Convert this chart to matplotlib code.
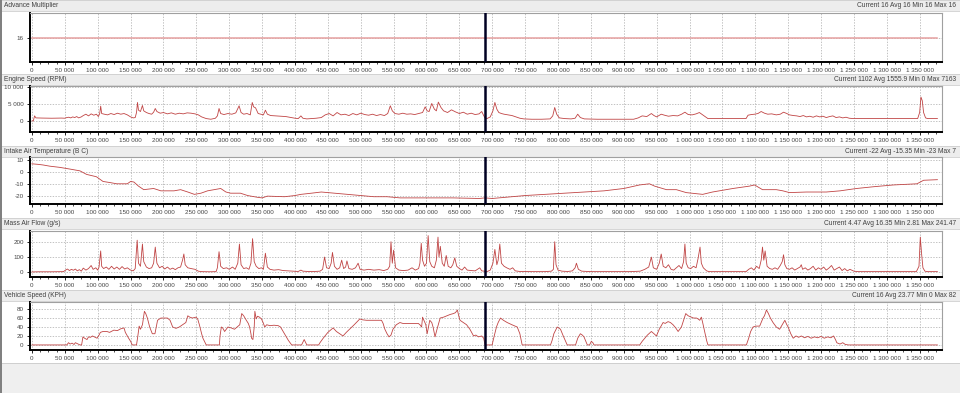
import numpy as np
import matplotlib
matplotlib.use('Agg')
import matplotlib.pyplot as plt
import matplotlib.patches as mpatches
from matplotlib.ticker import MultipleLocator, FuncFormatter

plt.rcParams['font.family'] = ['Liberation Sans', 'DejaVu Sans']

# ---- data (x in thousands of samples) ----
titles = ['Advance Multiplier', 'Engine Speed (RPM)', 'Intake Air Temperature (B C)',
          'Mass Air Flow (g/s)', 'Vehicle Speed (KPH)']
stats = ['Current 16 Avg 16 Min 16 Max 16',
         'Current 1102 Avg 1555.9 Min 0 Max 7163',
         'Current -22 Avg -15.35 Min -23 Max 7',
         'Current 4.47 Avg 16.35 Min 2.81 Max 241.47',
         'Current 16 Avg 23.77 Min 0 Max 82']

advance_pts = [(0, 16), (1377, 16)]

rpm_pts = [(0,0),(2,0),(4,1500),(6,900),(15,850),(30,800),(45,850),(50,800),(53,1000),(56,1100),
    (59,900),(62,1200),(65,1000),(68,1300),(71,900),(75,1200),(78,1600),(82,2000),(86,1500),(90,2100),
    (94,1700),(98,2000),(101,1300),(103,2200),(104.5,4400),(106,2200),(110,2000),(115,1800),(120,2200),
    (125,1900),(130,2300),(135,2000),(140,2200),(145,1800),(150,1200),(154,900),(157,1000),(159,2500),
    (160.5,5500),(162,3200),(165,2800),(168,4600),(170,3000),(174,2500),(178,2200),(182,2000),(185,2600),
    (187.5,3700),(190,2800),(195,2300),(200,2500),(206,2100),(212,2400),(218,2000),(224,2300),(230,2100),
    (236,2400),(242,2300),(248,2100),(253,1800),(258,1200),(265,700),(272,500),(279,800),(282,1500),
    (284.5,3700),(287,2200),(292,1900),(298,2200),(304,2000),(310,2400),(315,4500),(318,2500),(322,2000),
    (327,2200),(332,1800),(335,5500),(337,4200),(340,3900),(344,2200),(348,2000),(352,1800),(355,3200),
    (358,2000),(363,1600),(370,1500),(378,1400),(386,1300),(394,1000),(400,800),(405,700),(409,1500),
    (412,800),(418,600),(425,700),(432,800),(440,1000),(446,1800),(452,2200),(458,1500),(464,2500),
    (470,1800),(476,2000),(482,1600),(488,2200),(494,1800),(500,2300),(506,1900),(512,1700),(518,2000),
    (524,1600),(530,1900),(536,1600),(541,2200),(545,4500),(548,3000),(552,2200),(558,2000),(564,2300),
    (570,2000),(576,2100),(582,1900),(588,2200),(594,2500),(598,4200),(601,3000),(604,2800),(608,5200),
    (612,3500),(615,3000),(618,5600),(622,4000),(626,3000),(632,2500),(638,3300),(644,2700),(650,2200),
    (656,2600),(662,2000),(668,2300),(674,1900),(680,2100),(684,2800),(687,1600),(689,900),(692,700),
    (697,1200),(701,3000),(704,5500),(707,3500),(710,2500),(714,2200),(718,2000),(724,1800),(730,1600),
    (736,1200),(742,800),(748,600),(760,500),(775,500),(788,600),(792,1500),(795,4000),(798,2000),
    (802,900),(810,700),(820,600),(826,800),(830,2000),(834,1000),(840,600),(860,500),(890,500),(915,500),
    (922,900),(928,1500),(935,1300),(942,2200),(946,1600),(950,1200),(957,2000),(962,1700),(968,1400),
    (975,1600),(982,1500),(988,2000),(993,2600),(998,1900),(1004,1800),(1010,2100),(1015,2500),(1020,1800),
    (1025,1100),(1028,700),(1060,700),(1086,700),(1089,1700),(1094,1900),(1099,2000),(1104,2200),
    (1109,2800),(1114,2300),(1119,2000),(1125,2100),(1132,1800),(1138,2000),(1143,2600),(1148,2200),
    (1152,1800),(1158,1600),(1163,1500),(1168,1300),(1173,1600),(1178,1200),(1183,1400),(1188,1100),
    (1193,1500),(1198,1200),(1203,1400),(1208,1000),(1213,1300),(1218,1500),(1223,1000),(1228,1200),
    (1233,900),(1238,1100),(1243,800),(1249,700),(1300,700),(1347,700),(1350,2500),(1352,7100),
    (1354,6000),(1356,2500),(1359,900),(1362,700),(1377,700)]

temp_pts = [(0,7),(10,6.5),(17,6),(27,5),(42,4),(58,2.5),(73,1),(83,-2),(98,-4),(108,-8),(119,-9),
    (129,-10),(145,-10),(150,-8),(155,-8.5),(162,-12),(170,-15),(185,-14),(196,-16),(216,-16),(226,-15),
    (237,-17),(247,-19),(257,-18),(267,-16),(277,-15),(287,-14),(295,-17),(302,-18),(317,-18),(328,-20),
    (343,-21.5),(350,-22),(358,-20.5),(384,-21),(400,-20),(409,-19),(425,-18),(440,-17),(460,-18),
    (480,-19),(500,-20),(520,-21),(540,-21),(560,-22),(600,-22),(640,-22),(680,-22.5),(689,-22),
    (700,-22.5),(720,-21.5),(750,-20),(780,-19),(810,-18),(840,-17),(870,-16),(900,-14),(924,-11),
    (939,-10),(947,-12),(965,-15),(980,-15),(995,-17.5),(1020,-19),(1035,-17),(1066,-14),(1091,-12),
    (1099,-11),(1111,-15),(1132,-15),(1142,-16),(1152,-17.5),(1178,-17),(1208,-17),(1229,-16),
    (1254,-14),(1280,-12.5),(1310,-11),(1346,-10),(1356,-7),(1377,-6.5)]

maf_pts = [(0,3),(10,4),(30,4),(48,5),(51,15),(54,22),(57,12),(60,20),(63,14),(66,22),(69,10),(72,18),
    (75,8),(78,28),(82,15),(86,25),(90,45),(93,20),(97,30),(100,15),(102,35),(104.5,140),(106,40),(109,25),
    (113,35),(117,20),(121,40),(125,22),(129,35),(133,20),(137,38),(141,22),(145,30),(150,15),(154,10),
    (157,25),(160,210),(162,60),(165,40),(168,185),(170,70),(174,35),(178,25),(182,30),(185,60),
    (187.5,165),(190,60),(194,30),(198,40),(202,22),(206,35),(210,20),(214,28),(218,18),(222,30),(226,35),
    (229,80),(231,120),(233,50),(237,30),(242,25),(248,20),(253,8),(258,5),(270,4),(280,5),(282,30),
    (284.5,135),(287,40),(291,25),(296,30),(300,20),(305,35),(309,20),(313,60),(315.5,185),(318,50),
    (322,25),(326,30),(330,20),(333,60),(335.5,220),(338,70),(341,40),(345,25),(349,30),(352,20),
    (355,125),(358,35),(362,20),(368,15),(375,18),(382,12),(390,10),(398,8),(405,6),(409,15),(412,8),
    (420,6),(430,6),(438,8),(442,20),(445,100),(448,30),(452,25),(455,60),(457,130),(460,40),(464,20),
    (468,30),(471,80),(474,25),(477,35),(479,75),(482,25),(487,20),(492,30),(496,60),(499,20),(505,15),
    (512,20),(520,15),(528,18),(535,12),(541,20),(544,40),(546,200),(548,60),(550,145),(553,30),(558,15),
    (565,12),(572,15),(578,30),(583,15),(588,25),(590,60),(592,190),(594,80),(597,40),(600,60),
    (602.5,240),(605,70),(608,40),(612,30),(615,80),(617.5,230),(619,100),(621,170),(624,60),(627,40),
    (630,110),(633,40),(637,30),(640,50),(643,95),(646,40),(650,25),(654,15),(658,35),(662,15),(668,12),
    (674,10),(681,30),(684,10),(688,8),(692,5),(697,15),(701,60),(704,150),(707,50),(709,80),(711.5,185),
    (714,60),(718,40),(722,30),(727,20),(731,30),(735,10),(742,6),(760,5),(780,5),(790,8),(793,20),
    (795,200),(797,50),(800,15),(806,8),(815,6),(822,10),(826,30),(828,60),(831,20),(836,8),(850,5),
    (880,5),(910,5),(925,8),(932,20),(938,35),(942,100),(945,30),(950,20),(954,60),(957,120),(960,40),
    (964,30),(968,50),(972,20),(976,15),(980,30),(984,45),(988,25),(991,70),(993,185),(995,60),(998,30),
    (1002,25),(1006,40),(1010,30),(1013,90),(1016,165),(1018,60),(1021,30),(1026,10),(1030,5),(1060,5),
    (1086,5),(1090,20),(1094,30),(1098,15),(1102,40),(1106,25),(1109,80),(1111,165),(1113,80),(1115,140),
    (1118,40),(1122,25),(1126,20),(1130,30),(1134,20),(1138,45),(1141,70),(1143,115),(1145,50),(1148,25),
    (1152,20),(1156,30),(1160,15),(1164,25),(1168,35),(1170,50),(1172,20),(1176,30),(1180,15),(1184,25),
    (1188,40),(1192,15),(1196,30),(1200,20),(1204,35),(1208,15),(1212,28),(1216,45),(1220,15),(1224,25),
    (1228,35),(1232,12),(1236,25),(1240,10),(1244,20),(1250,8),(1256,5),(1300,5),(1345,5),(1349,40),
    (1351,230),(1353,120),(1355,30),(1358,8),(1362,5),(1377,5)]

speed_pts = [(0,0),(53,0),(55.6,5),(58,2),(61,4),(64,1),(66,5),(70,2),(73,0),(75.5,0),(77.5,18),(80,15),
    (83.7,12),(86,18),(89,17),(92,20),(96,17),(99,15),(102,22),(104,28),(108,30),(114,30),(118,28),
    (124.5,33),(130,32),(135,36),(140,38),(142,28),(147,15),(150,8),(152.5,0),(159,0),(161,20),(163,42),
    (165,35),(168,45),(171,75),(173,70),(175.5,60),(179,40),(183,25),(187,25),(191,55),(196,60),(206,60),
    (210,55),(214,40),(219,37),(224,40),(229,45),(234,50),(237,65),(240,62),(244,60),(249.5,62),(252,58),
    (254.6,45),(258,25),(260,15),(265,0),(285,0),(286,20),(288,40),(290,38),(293,30),(298,40),(303,38),
    (308,35),(312,40),(316,45),(319,70),(322,65),(326,55),(329,48),(331,40),(333,25),(334,15),(336,12),
    (338,40),(339,75),(341,58),(343,64),(346,62),(349,58),(351.5,50),(354,40),(357,45),(362,43),(368,44),
    (374.5,43),(378,40),(382,30),(386,20),(390,10),(395,0),(410,0),(414,12),(418,0),(436,0),(438,5),
    (442.9,15),(450,28),(458,38),(463,30),(468,25),(473,20),(478,28),(483,35),(490,45),(498.6,58),
    (503,56),(508.8,55),(520,55),(531.6,55),(534,48),(536.7,35),(540,25),(543,18),(546,22),(549,35),
    (554,45),(559.6,50),(564,48),(569.8,48),(580,48),(587.5,48),(590,45),(592.6,40),(594,62),(596,55),
    (599,45),(601,25),(603,40),(605,55),(608,50),(610,40),(613,18),(616,35),(620.8,60),(626,62),(631,65),
    (636,68),(641,70),(644,72),(647,78),(649,65),(651,55),(656,50),(661,45),(666,35),(671.6,20),(675,22),
    (679,18),(684,20),(687,15),(689,0),(699.8,0),(703,20),(706.4,40),(709,50),(712.5,60),(717,55),
    (722.7,50),(730,45),(738,40),(742,25),(745.5,0),(788.6,0),(791,10),(793.7,25),(798.8,40),(801,38),
    (803.8,35),(808,20),(814,0),(826.7,0),(830,15),(834,25),(837,22),(839.5,18),(844.6,0),(848,0),
    (850.7,8),(853,5),(854.7,0),(924.3,0),(928,8),(931.9,15),(936,22),(942,30),(946,25),(949.7,20),
    (954,35),(959.8,50),(963,48),(967.4,52),(971,50),(975,45),(979,38),(982.7,30),(987.7,40),(991,55),
    (994.3,70),(998,65),(1003,62),(1006,60),(1010.6,60),(1013,58),(1015.6,55),(1018,62),(1020,50),
    (1023,30),(1026,10),(1028,0),(1086.5,0),(1090,15),(1093,30),(1096.6,40),(1101,42),(1106.7,42),
    (1111.8,60),(1114,65),(1117,78),(1120,70),(1123,60),(1127,50),(1132,40),(1137,35),(1141,45),(1145,55),
    (1148,45),(1150,40),(1154,25),(1157.7,15),(1162,20),(1166,17),(1170,20),(1175,16),(1180,19),(1185,15),
    (1190,18),(1195,16),(1200,19),(1205,15),(1210,18),(1215,16),(1219,20),(1222,12),(1224,5),(1227,3),
    (1229,2),(1233,5),(1237,1),(1242,0),(1377,0)]

series = [advance_pts, rpm_pts, temp_pts, maf_pts, speed_pts]
y_ticks = [[16], [0, 5000, 10000], [-20, -10, 0, 10], [0, 100, 200], [0, 20, 40, 60, 80]]
y_limits = [(15, 17), (-3300, 10400), (-27.2, 12.8), (-30, 270), (-11.3, 95.8)]
cursor_k = 689

# ---- layout, in pixels from the top of a 960x393 image ----
W, H = 960.0, 393.0
header_top = [0, 74, 146, 218, 290]
axes_top = [13, 86, 157, 231, 302]
axes_bot = [62, 132, 204, 277, 350]
body_bot = [74, 146, 218, 290, 363]
ax_left, ax_right = 30, 942

fig = plt.figure(figsize=(9.6, 3.93), dpi=100)
fig.patch.set_facecolor('#efefef')

def fy(px):
    return 1 - px / H

def space_fmt(v, pos):
    return '{:,}'.format(int(round(v))).replace(',', ' ')

for i in range(5):
    # panel body and header strip
    fig.patches.append(mpatches.Rectangle((0, fy(body_bot[i])), 1, (body_bot[i] - header_top[i]) / H,
                                          transform=fig.transFigure, facecolor='white',
                                          edgecolor='#c8c8c8', lw=0.6, zorder=-5))
    fig.patches.append(mpatches.Rectangle((0, fy(header_top[i] + 11)), 1, 11 / H,
                                          transform=fig.transFigure, facecolor='#ededed',
                                          edgecolor='#d0d0d0', lw=0.6, zorder=-4))
    fig.text(4 / W, fy(header_top[i] + 5.5), titles[i], fontsize=4.8, color='#404040', va='center', ha='left')
    fig.text(956 / W, fy(header_top[i] + 5.5), stats[i], fontsize=4.8, color='#404040', va='center', ha='right')

    ax = fig.add_axes([ax_left / W, fy(axes_bot[i]), (ax_right - ax_left) / W,
                       (axes_bot[i] - axes_top[i]) / H])
    ax.set_zorder(2)
    ax.set_facecolor('white')
    pts = np.array(series[i], dtype=float)
    if i == 0:
        ax.plot(pts[:, 0] * 1000, pts[:, 1], color='#e6a0a0', lw=1.1, zorder=3)
    else:
        ax.plot(pts[:, 0] * 1000, pts[:, 1], color='#c04444', lw=0.6, zorder=3)
    ax.axvline(cursor_k * 1000, color='#000022', lw=1.8, zorder=4)

    ax.set_xlim(-3000, 1384000)
    ax.set_ylim(*y_limits[i])
    ax.set_yticks(y_ticks[i])
    ax.yaxis.set_major_formatter(FuncFormatter(space_fmt))
    ax.xaxis.set_major_locator(MultipleLocator(50000))
    ax.xaxis.set_minor_locator(MultipleLocator(12500))
    ax.xaxis.set_major_formatter(FuncFormatter(lambda v, p: space_fmt(v, p) if 0 <= v <= 1350000 else ''))
    ax.tick_params(axis='both', which='major', labelsize=4.5, labelcolor='#444444', length=2.5,
                   width=0.6, pad=2)
    ax.tick_params(axis='x', which='minor', length=1.5, width=0.5)
    ax.grid(True, which='major', color='#aaaaaa', linestyle=(0, (2, 2)), lw=0.5)
    ax.set_axisbelow(True)
    for s in ['left', 'bottom']:
        ax.spines[s].set_color('black')
        ax.spines[s].set_linewidth(1.4)
    for s in ['top', 'right']:
        ax.spines[s].set_color('#a0a0a0')
        ax.spines[s].set_linewidth(0.8)

# left window border
fig.patches.append(mpatches.Rectangle((0, 0), 2 / W, 1, transform=fig.transFigure,
                                      facecolor='#808080', edgecolor='none', zorder=1))

fig.savefig('out.png', dpi=100, facecolor=fig.get_facecolor())
